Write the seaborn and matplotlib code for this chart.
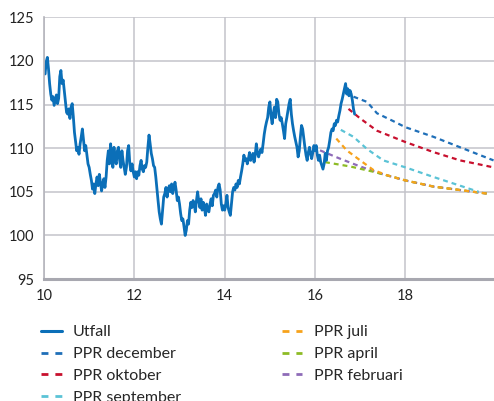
import numpy as np
import matplotlib
matplotlib.use("Agg")
import matplotlib.pyplot as plt
from matplotlib.lines import Line2D
import seaborn as sns

# Utfall, every 0.025 units starting at 10.0
utfall = [
    118.7, 118.5, 119.9, 120.4, 119.1, 117.4, 116.2, 115.5, 115.9, 114.9,
    115.5, 116.1, 115.1, 115.7, 118.2, 118.9, 117.4, 117.8, 116.6, 115.5,
    114.1, 113.9, 114.5, 113.4, 114.7, 115.1, 113.6, 111.8, 110.7, 109.7,
    110.1, 109.3, 110.5, 111.3, 112.2, 110.9, 109.7, 110.3, 109.2, 108.2,
    107.8, 107.0, 106.3, 105.3, 105.9, 104.8, 105.9, 106.7, 105.7, 107.0,
    106.1, 105.1, 105.9, 106.5, 105.5, 106.7, 108.6, 109.7, 108.2, 110.5,
    109.0, 107.8, 110.1, 108.6, 108.2, 109.7, 110.1, 108.6, 107.8, 109.7,
    108.6, 107.8, 107.0,
    107.8, 109.7, 110.3, 108.2, 107.4, 108.2, 107.3, 106.7, 107.3, 106.5,
    107.3, 106.9, 108.0, 108.6, 107.6, 107.3, 108.0, 107.8, 108.4, 110.1,
    111.5, 110.5, 109.4, 108.8, 108.0, 107.8, 106.7, 105.3, 104.0, 102.7,
    101.9, 101.3, 102.9, 104.4, 104.8, 105.5, 104.4, 105.3, 105.7, 105.0,
    105.9, 104.8, 105.5, 106.1, 105.2, 104.0, 104.4, 103.6, 102.5, 101.7,
    101.9, 101.0, 100.0, 100.6, 101.7, 101.3, 102.9, 103.8, 103.2, 104.0,
    103.6, 102.7, 104.0, 105.0, 104.0, 103.2, 104.2, 102.9, 103.8, 103.2,
    102.3, 103.6, 102.9,
    102.7, 103.6, 104.2, 103.4, 104.6, 104.8, 105.2, 104.4, 105.5, 105.9,
    105.2, 103.6, 102.9, 103.4, 102.9, 103.6, 104.6, 103.2, 102.7, 102.3,
    103.6, 105.0, 105.5, 105.2, 105.9, 105.5, 106.3, 105.9, 106.7, 107.4,
    108.2, 109.2, 108.6, 108.8, 108.2, 108.8, 109.5, 108.6, 109.0, 109.4,
    108.4, 109.2, 110.5, 109.5, 109.0, 109.5, 109.9, 109.5, 110.5, 111.6,
    112.4, 113.0, 113.5, 114.7, 115.3, 113.7, 112.8, 113.9, 114.7, 113.5,
    115.6, 115.3, 113.9, 113.2, 113.5, 112.8, 112.0, 111.1, 112.8, 113.5,
    114.3, 115.1,
    115.6, 113.9, 112.8, 112.0, 111.3, 110.7, 110.1, 109.0, 109.7, 111.3,
    112.6, 112.2, 111.1, 110.1, 109.2, 108.6, 109.5, 110.1, 109.4, 108.8,
    109.5, 110.3, 109.7, 110.3, 109.2, 108.6, 109.2, 108.4, 108.0, 107.6,
    108.2, 109.4, 108.6, 109.7, 110.1, 110.9, 111.8, 112.2, 112.0, 112.8,
    112.6, 113.2, 113.0, 113.7, 114.3, 115.1, 115.6, 116.2, 116.8, 117.4,
    116.2, 116.8, 116.0, 116.6, 116.2, 115.5, 114.5, 113.9,
]
utfall_x = 10 + 0.025 * np.arange(len(utfall))

# forecasts (PPR)
dec_x = [16.85, 17.15, 17.37, 17.73, 18.0, 18.62, 19.21, 19.95]
dec_y = [115.9, 115.3, 114.0, 113.1, 112.4, 111.3, 110.1, 108.6]
okt_x = [16.74, 17.0, 17.37, 18.0, 18.62, 19.21, 19.95]
okt_y = [114.5, 113.4, 112.0, 110.7, 109.55, 108.6, 107.8]
sep_x = [16.57, 16.85, 17.15, 17.51, 18.0, 18.62, 19.21, 19.62]
sep_y = [112.1, 111.3, 109.9, 108.6, 107.8, 106.7, 105.7, 105.0]
jul_x = [16.47, 16.70, 17.0, 17.29, 17.59, 18.0, 18.62, 19.21, 19.80]
jul_y = [111.1, 109.75, 108.6, 107.5, 106.9, 106.3, 105.6, 105.2, 104.8]
apr_x = [16.22, 16.78, 17.29, 17.73, 18.0, 18.62, 19.21, 19.80]
apr_y = [108.4, 107.9, 107.3, 106.7, 106.3, 105.6, 105.2, 104.8]
feb_x = [16.11, 16.55, 17.0, 17.44, 18.0, 18.62, 19.21, 19.80]
feb_y = [109.75, 108.8, 107.9, 107.1, 106.3, 105.6, 105.2, 104.8]

labels = ["Utfall", "PPR december", "PPR oktober", "PPR september",
          "PPR juli", "PPR april", "PPR februari"]
colors = ["#0b6fb8", "#1f6fb8", "#c8102e", "#5bc3d6",
          "#f7a21b", "#8dbb25", "#8e6bb8"]

sns.set_style("white")
plt.rcParams["font.family"] = ["Lato", "DejaVu Sans"]

fig = plt.figure(figsize=(4.94, 4.01), dpi=100)
ax = fig.add_axes([0.089, 0.304, 0.911, 0.653])

dash = (0, (2.2, 1.8))
series = [
    (feb_x, feb_y, colors[6]),
    (apr_x, apr_y, colors[5]),
    (jul_x, jul_y, colors[4]),
    (sep_x, sep_y, colors[3]),
    (okt_x, okt_y, colors[2]),
    (dec_x, dec_y, colors[1]),
]
for xs, ys, c in series:
    sns.lineplot(x=xs, y=ys, ax=ax, color=c, lw=1.6, linestyle=dash)
sns.lineplot(x=utfall_x, y=utfall, ax=ax, color=colors[0], lw=2.0)

ax.set_xlim(10, 19.96)
ax.set_ylim(95, 125)
ax.set_yticks(range(95, 126, 5))
ax.set_xticks([10, 12, 14, 16, 18])
ax.grid(True, color="#c3c3ca", lw=1.1)
ax.set_axisbelow(True)
ax.tick_params(length=0, pad=7, labelsize=10.5, colors="#222222")
for s in ["top", "right"]:
    ax.spines[s].set_visible(False)
ax.spines["left"].set_color("#b5b5bc")
ax.spines["left"].set_linewidth(1.2)
ax.spines["bottom"].set_color("#a8a8b0")
ax.spines["bottom"].set_linewidth(2.2)

handles = [Line2D([], [], color=colors[0], lw=2.2)]
handles += [Line2D([], [], color=c, lw=2, linestyle=(0, (2.5, 2.5)))
            for c in colors[1:]]
fig.legend(handles, labels, ncol=2, loc="upper left",
           bbox_to_anchor=(0.07, 0.205), frameon=False, fontsize=11.5,
           handlelength=1.3, handletextpad=0.7, labelspacing=0.48,
           columnspacing=6.3, borderaxespad=0)

fig.savefig("out.png", dpi=100)
